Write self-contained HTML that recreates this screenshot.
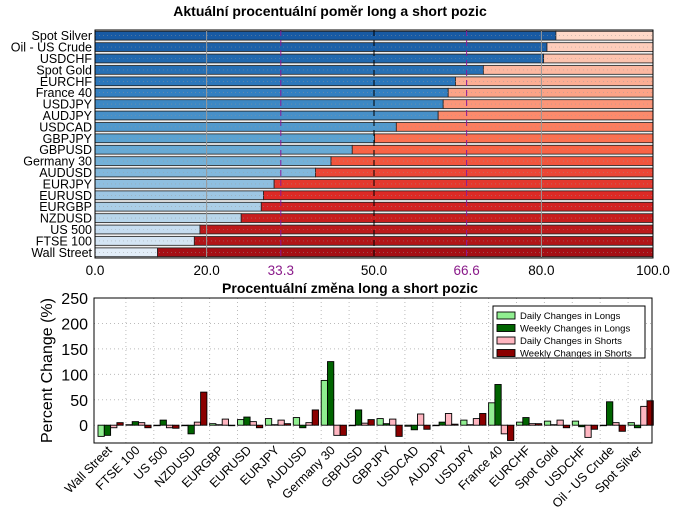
<!DOCTYPE html>
<html><head><meta charset="utf-8">
<style>
html,body{margin:0;padding:0;background:#fff;}
svg{display:block;font-family:"Liberation Sans",sans-serif;}
</style></head>
<body>
<svg id="c" width="680" height="515" viewBox="0 0 680 515" xmlns="http://www.w3.org/2000/svg">
<text x="330" y="16" text-anchor="middle" font-size="14" font-weight="bold">Aktuální procentuální poměr long a short pozic</text>
<text x="350" y="293" text-anchor="middle" font-size="14" font-weight="bold">Procentuální změna long a short pozic</text>
<g id="top"></g>
<g id="bot"></g>
</svg>
<script>
const NS="http://www.w3.org/2000/svg";
// ---- top chart data ----
const topCats=["Spot Silver","Oil - US Crude","USDCHF","Spot Gold","EURCHF","France 40","USDJPY","AUDJPY","USDCAD","GBPJPY","GBPUSD","Germany 30","AUDUSD","EURJPY","EURUSD","EURGBP","NZDUSD","US 500","FTSE 100","Wall Street"];
const longPct=[82.6,81.0,80.4,69.6,64.6,63.3,62.4,61.5,54.0,50.1,46.1,42.3,39.5,32.1,30.2,29.8,26.2,18.8,17.8,11.2];
const topTicks=[0,20,33.3,50,66.6,80,100];
const topTickLabels=["0.0","20.0","33.3","50.0","66.6","80.0","100.0"];
// ---- bottom chart data ----
const botCats=["Wall Street","FTSE 100","US 500","NZDUSD","EURGBP","EURUSD","EURJPY","AUDUSD","Germany 30","GBPUSD","GBPJPY","USDCAD","AUDJPY","USDJPY","France 40","EURCHF","Spot Gold","USDCHF","Oil - US Crude","Spot Silver"];
const dailyLongs=[-22,1,-1,0,3,11,13,15,88,-1,13,-2,-1,10,44,6,8,8,0,5];
const weeklyLongs=[-20,7,10,-17,1,16,1,-5,125,30,3,-9,6,1,80,15,1,-3,46,-5];
const dailyShorts=[-5,5,-5,6,12,7,10,5,-20,4,12,22,23,13,-17,3,10,-24,5,37];
const weeklyShorts=[5,-5,-6,65,0,-5,3,30,-20,11,-22,-8,2,23,-30,3,-5,-8,-12,48];
const yTicks=[0,50,100,150,200,250];

function el(tag,attrs,parent){const e=document.createElementNS(NS,tag);for(const k in attrs)e.setAttribute(k,attrs[k]);parent.appendChild(e);return e;}
function lerp(a,b,t){return a.map((v,i)=>Math.round(v+(b[i]-v)*t));}
function rgb(c){return "rgb("+c.join(",")+")";}
function ramp(stops,t){const n=stops.length-1;const i=Math.min(n-1,Math.floor(t*n));return rgb(lerp(stops[i],stops[i+1],t*n-i));}
const blues=[[24,90,163],[48,125,191],[96,166,211],[160,200,228],[226,237,248]];
const reds=[[254,216,200],[252,166,138],[251,106,74],[220,38,36],[165,15,21]];

// ---- top chart ----
const T=document.getElementById('top');
const L=95,R=653,TT=30,TB=258;
const xs=v=>L+(v-0)/(100-0)*(R-L);
const rowH=(TB-TT)/topCats.length;
el('rect',{x:L,y:TT,width:R-L,height:TB-TT,fill:'#fff',stroke:'none'},T);
topCats.forEach((c,i)=>{
  const y=TT+i*rowH+1.3, h=rowH-2.6, t=i/(topCats.length-1);
  el('rect',{x:L,y:TT+i*rowH,width:R-L,height:rowH,fill:'#ececec'},T);
  const b=el('rect',{x:xs(0),y:y,width:xs(longPct[i])-xs(0),height:h,fill:ramp(blues,t),stroke:'#222','stroke-width':0.8},T);
  
  
  const s=el('rect',{x:xs(longPct[i]),y:y,width:xs(100)-xs(longPct[i]),height:h,fill:ramp(reds,t),stroke:'#222','stroke-width':0.8},T);
  
  
  el('line',{x1:L,x2:R,y1:y+h/2,y2:y+h/2,stroke:'#999','stroke-width':0.6,'stroke-dasharray':'1,3',opacity:0.7},T);
  const lb=el('text',{x:L-3,y:TT+i*rowH+rowH/2+4.5,'text-anchor':'end','font-size':12.5,fill:'#000'},T);
  lb.textContent=c;
  
  
});
[[20,'#999','none'],[80,'#999','none'],[33.3,'#8a1a9a','6,4'],[66.6,'#8a1a9a','6,4'],[50,'#000','6,4']].forEach(d=>{
  const ln=el('line',{x1:xs(d[0]),x2:xs(d[0]),y1:TT,y2:TB,stroke:d[1],'stroke-width':1,'stroke-dasharray':d[2]},T);
  
  
});
el('rect',{x:L,y:TT,width:R-L,height:TB-TT,fill:'none',stroke:'#000','stroke-width':1},T);
topTicks.forEach((v,i)=>{
  const purple=(v===33.3||v===66.6);
  const tx=el('text',{x:xs(v),y:TB+17,'text-anchor':'middle','font-size':13.5,fill:purple?'#8a1a8a':'#000'},T);
  tx.textContent=topTickLabels[i];
  
  
});

// ---- bottom chart ----
const B=document.getElementById('bot');
const BL=94,BR=652,BT=298,BB=443,YMIN=-35,YMAX=250;
const ys=v=>BB-(v-YMIN)/(YMAX-YMIN)*(BB-BT);
const gw=(BR-BL)/botCats.length;
const bw=6.3;
el('rect',{x:BL,y:BT,width:BR-BL,height:BB-BT,fill:'#fff'},B);
yTicks.forEach(v=>{
  el('line',{x1:BL,x2:BR,y1:ys(v),y2:ys(v),stroke:'#bbb','stroke-dasharray':'1,3'},B);
  const t=el('text',{x:BL-6,y:ys(v)+6,'text-anchor':'end','font-size':16},B);
  t.textContent=v;
  
  
});
botCats.forEach((c,i)=>{
  const gx=BL+4+gw*(i+1);
  if(i<botCats.length-1) el('line',{x1:gx,x2:gx,y1:BT,y2:BB,stroke:'#bbb','stroke-dasharray':'1,3'},B);
});
const series=[[dailyLongs,'#90ee90'],[weeklyLongs,'#006400'],[dailyShorts,'#ffb6c1'],[weeklyShorts,'#8b0000']];
const snames=['daily-long','weekly-long','daily-short','weekly-short'];
botCats.forEach((c,i)=>{
  series.forEach((s,k)=>{
    const v=s[0][i], x=BL+4+gw*i+k*bw;
    const y0=ys(0), y1=ys(v);
    const r=el('rect',{x:x,y:Math.min(y0,y1),width:bw,height:Math.max(0.5,Math.abs(y1-y0)),fill:s[1],stroke:'#000','stroke-width':0.9},B);
    
    
  });
  const cx=BL+4+gw*i+2*bw+2;
  const t=el('text',{x:cx,y:BB+8,'text-anchor':'end','font-size':12.5,transform:'rotate(-45 '+cx+' '+(BB+8)+')'},B);
  t.textContent=c;
  
  
});
el('rect',{x:BL,y:BT,width:BR-BL,height:BB-BT,fill:'none',stroke:'#000','stroke-width':1},B);
const yl=el('text',{x:52,y:(BT+BB)/2,'text-anchor':'middle','font-size':16,transform:'rotate(-90 52 '+((BT+BB)/2)+')'},B);
yl.textContent='Percent Change (%)';


// legend
const lg=el('g',{},B);


el('rect',{x:493,y:306,width:152,height:52,fill:'#fff',stroke:'#000','stroke-width':1},lg);
const lnames=['Daily Changes in Longs','Weekly Changes in Longs','Daily Changes in Shorts','Weekly Changes in Shorts'];
lnames.forEach((n,k)=>{
  const y=312+k*12.5;
  el('rect',{x:497,y:y,width:18,height:7,fill:series[k][1],stroke:'#000','stroke-width':0.9},lg);
  const t=el('text',{x:520,y:y+7,'font-size':9.5},lg);
  t.textContent=n;
  
  
});
</script>
</body></html>
